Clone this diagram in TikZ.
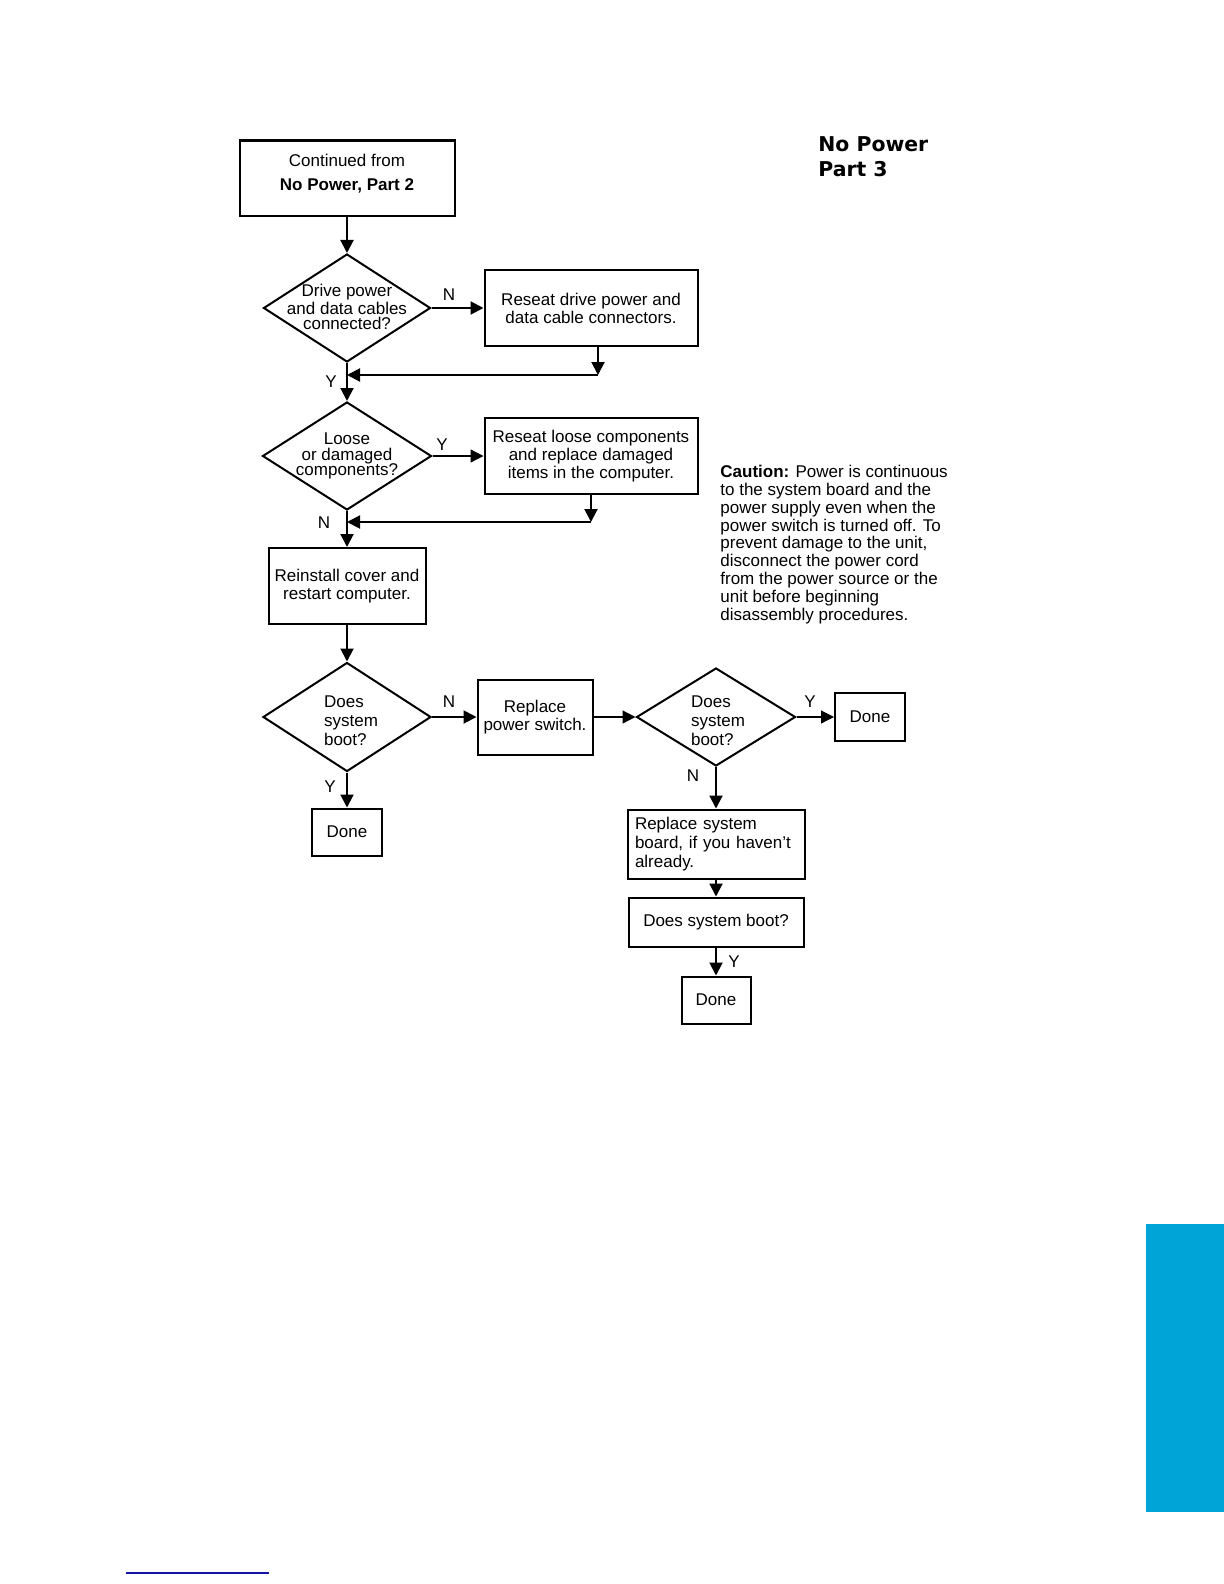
\documentclass[tikz,border=0pt]{standalone}
\usepackage{fontspec}
\setmainfont{Liberation Sans}
\newfontfamily\titlefont{DejaVu Sans}
\usetikzlibrary{shapes.geometric,arrows.meta}
\definecolor{tabblue}{RGB}{0,164,214}
\definecolor{linkblue}{RGB}{20,20,170}

\begin{document}
\begin{tikzpicture}[x=0.5pt, y=-0.5pt,
    box/.style={draw, line width=1pt, align=center, inner sep=1pt, font=\fontsize{8.5}{9}\selectfont},
    dia/.style={draw, diamond, line width=1pt, inner sep=0pt},
    dtext/.style={align=center, inner sep=0pt, font=\fontsize{8.5}{7.8}\selectfont},
    arr/.style={-{Triangle[length=6.5pt,width=6.5pt]}, line width=1pt},
    thinarr/.style={-{Triangle[length=6.5pt,width=6.5pt]}, line width=0.6pt},
    lbl/.style={font=\fontsize{8.5}{9}\selectfont, inner sep=0pt}]

    \useasboundingbox (0,0) rectangle (1224,1584);

    % Title
    \node[anchor=north west, align=left, inner sep=0pt, font=\titlefont\bfseries\fontsize{10.2}{12.5}\selectfont] (title) at (818,136) {No Power\\Part 3};

    % Start
    \node[box, minimum width=107.5pt, minimum height=37.5pt] (start) at (347,178) {};
    \node[align=center, inner sep=0pt, font=\fontsize{8.5}{9}\selectfont] (startt) at (347,174) {Continued from\\[3pt]\textbf{No Power, Part 2}};

    % Drive cables
    \node[dia, minimum width=83.5pt, minimum height=54pt] (d1) at (347,308) {};
    \node[dtext] (d1t) at (347,307) {Drive power\\and data cables\\connected?};
    \node[box, minimum width=106.5pt, minimum height=38pt] (r1) at (591,308) {Reseat drive power and\\data cable connectors.};
    \coordinate (j1) at (347,375);
    \coordinate (j1r) at (598,375);

    % Loose components
    \node[dia, minimum width=84.5pt, minimum height=54pt] (d2) at (347,456) {};
    \node[dtext] (d2t) at (d2) {Loose\\or damaged\\components?};
    \node[box, minimum width=106.5pt, minimum height=38pt, font=\fontsize{8.5}{8.8}\selectfont] (r2) at (591,456) {Reseat loose components\\and replace damaged\\items in the computer.};
    \coordinate (j2) at (347,522);
    \coordinate (j2r) at (591,522);

    % Restart
    \node[box, minimum width=78.5pt, minimum height=38pt] (rc) at (347,586) {Reinstall cover and\\restart computer.};

    % First boot check
    \node[dia, minimum width=84pt, minimum height=54.5pt] (d3) at (347,717) {};
    \node[dtext, align=left, font=\fontsize{8.5}{9.6}\selectfont] (d3t) at (351,721) {Does\\system\\boot?};
    \node[box, minimum width=35pt, minimum height=23.5pt] (done1) at (347,832) {Done};
    \node[box, minimum width=57.5pt, minimum height=37.5pt, font=\fontsize{8.5}{8.6}\selectfont] (sw) at (535,717) {Replace\\power switch.};

    % Second boot check
    \node[dia, minimum width=79.5pt, minimum height=49pt] (d4) at (716,717) {};
    \node[dtext, align=left, font=\fontsize{8.5}{9.6}\selectfont] (d4t) at (718,721) {Does\\system\\boot?};
    \node[box, minimum width=35pt, minimum height=24pt] (done2) at (870,717) {Done};
    \node[box, minimum width=88.5pt, minimum height=34.5pt, align=left, text width=81pt, inner xsep=3.5pt, font=\fontsize{8.5}{9.3}\selectfont] (sb) at (716,844) {Replace system\\board, if you haven't\\already.};
    \node[box, minimum width=87.5pt, minimum height=24.5pt] (boot) at (716,922) {Does system boot?};
    \node[box, minimum width=34.5pt, minimum height=23.5pt] (done3) at (716,1000) {Done};

    % Caution note
    \node[anchor=north west, align=left, inner sep=0pt, font=\fontsize{8.5}{8.9}\selectfont] (caution) at (720,465) {\textbf{Caution:} Power is continuous\\to the system board and the\\power supply even when the\\power switch is turned off. To\\prevent damage to the unit,\\disconnect the power cord\\from the power source or the\\unit before beginning\\disassembly procedures.};

    % Connectors
    \draw[arr] (start) -- (d1);
    \draw[arr] (d1) -- (r1);
    \draw[arr] (r1.south -| j1r) -- (j1r);
    \draw[arr] (j1r) -- (j1);
    \draw[arr] (d1) -- (d2);
    \draw[thinarr] (d2) -- (r2);
    \draw[arr] (r2.south -| j2r) -- (j2r);
    \draw[arr] (j2r) -- (j2);
    \draw[arr] (d2) -- (rc);
    \draw[arr] (rc) -- (d3);
    \draw[arr] (d3) -- (sw);
    \draw[arr] (d3) -- (done1);
    \draw[thinarr] (sw) -- (d4);
    \draw[thinarr] (d4) -- (done2);
    \draw[arr] (d4) -- (sb);
    \draw[arr] (sb) -- (boot);
    \draw[arr] (boot) -- (done3);

    % Labels
    \node[lbl] (n1) at (449,295) {N};
    \node[lbl] (y1) at (331,382) {Y};
    \node[lbl] (y2) at (442,445) {Y};
    \node[lbl] (n2) at (324,523) {N};
    \node[lbl] (n3) at (449,702) {N};
    \node[lbl] (y3) at (330,787) {Y};
    \node[lbl] (y4) at (810,702) {Y};
    \node[lbl] (n4) at (693,776) {N};
    \node[lbl] (y5) at (734,962) {Y};

    % Page tab and footer line
    \fill[tabblue] (1146,1224) rectangle (1224,1512);
    \draw[linkblue, line width=0.8pt] (126,1573) -- (269,1573);
\end{tikzpicture}
\end{document}
